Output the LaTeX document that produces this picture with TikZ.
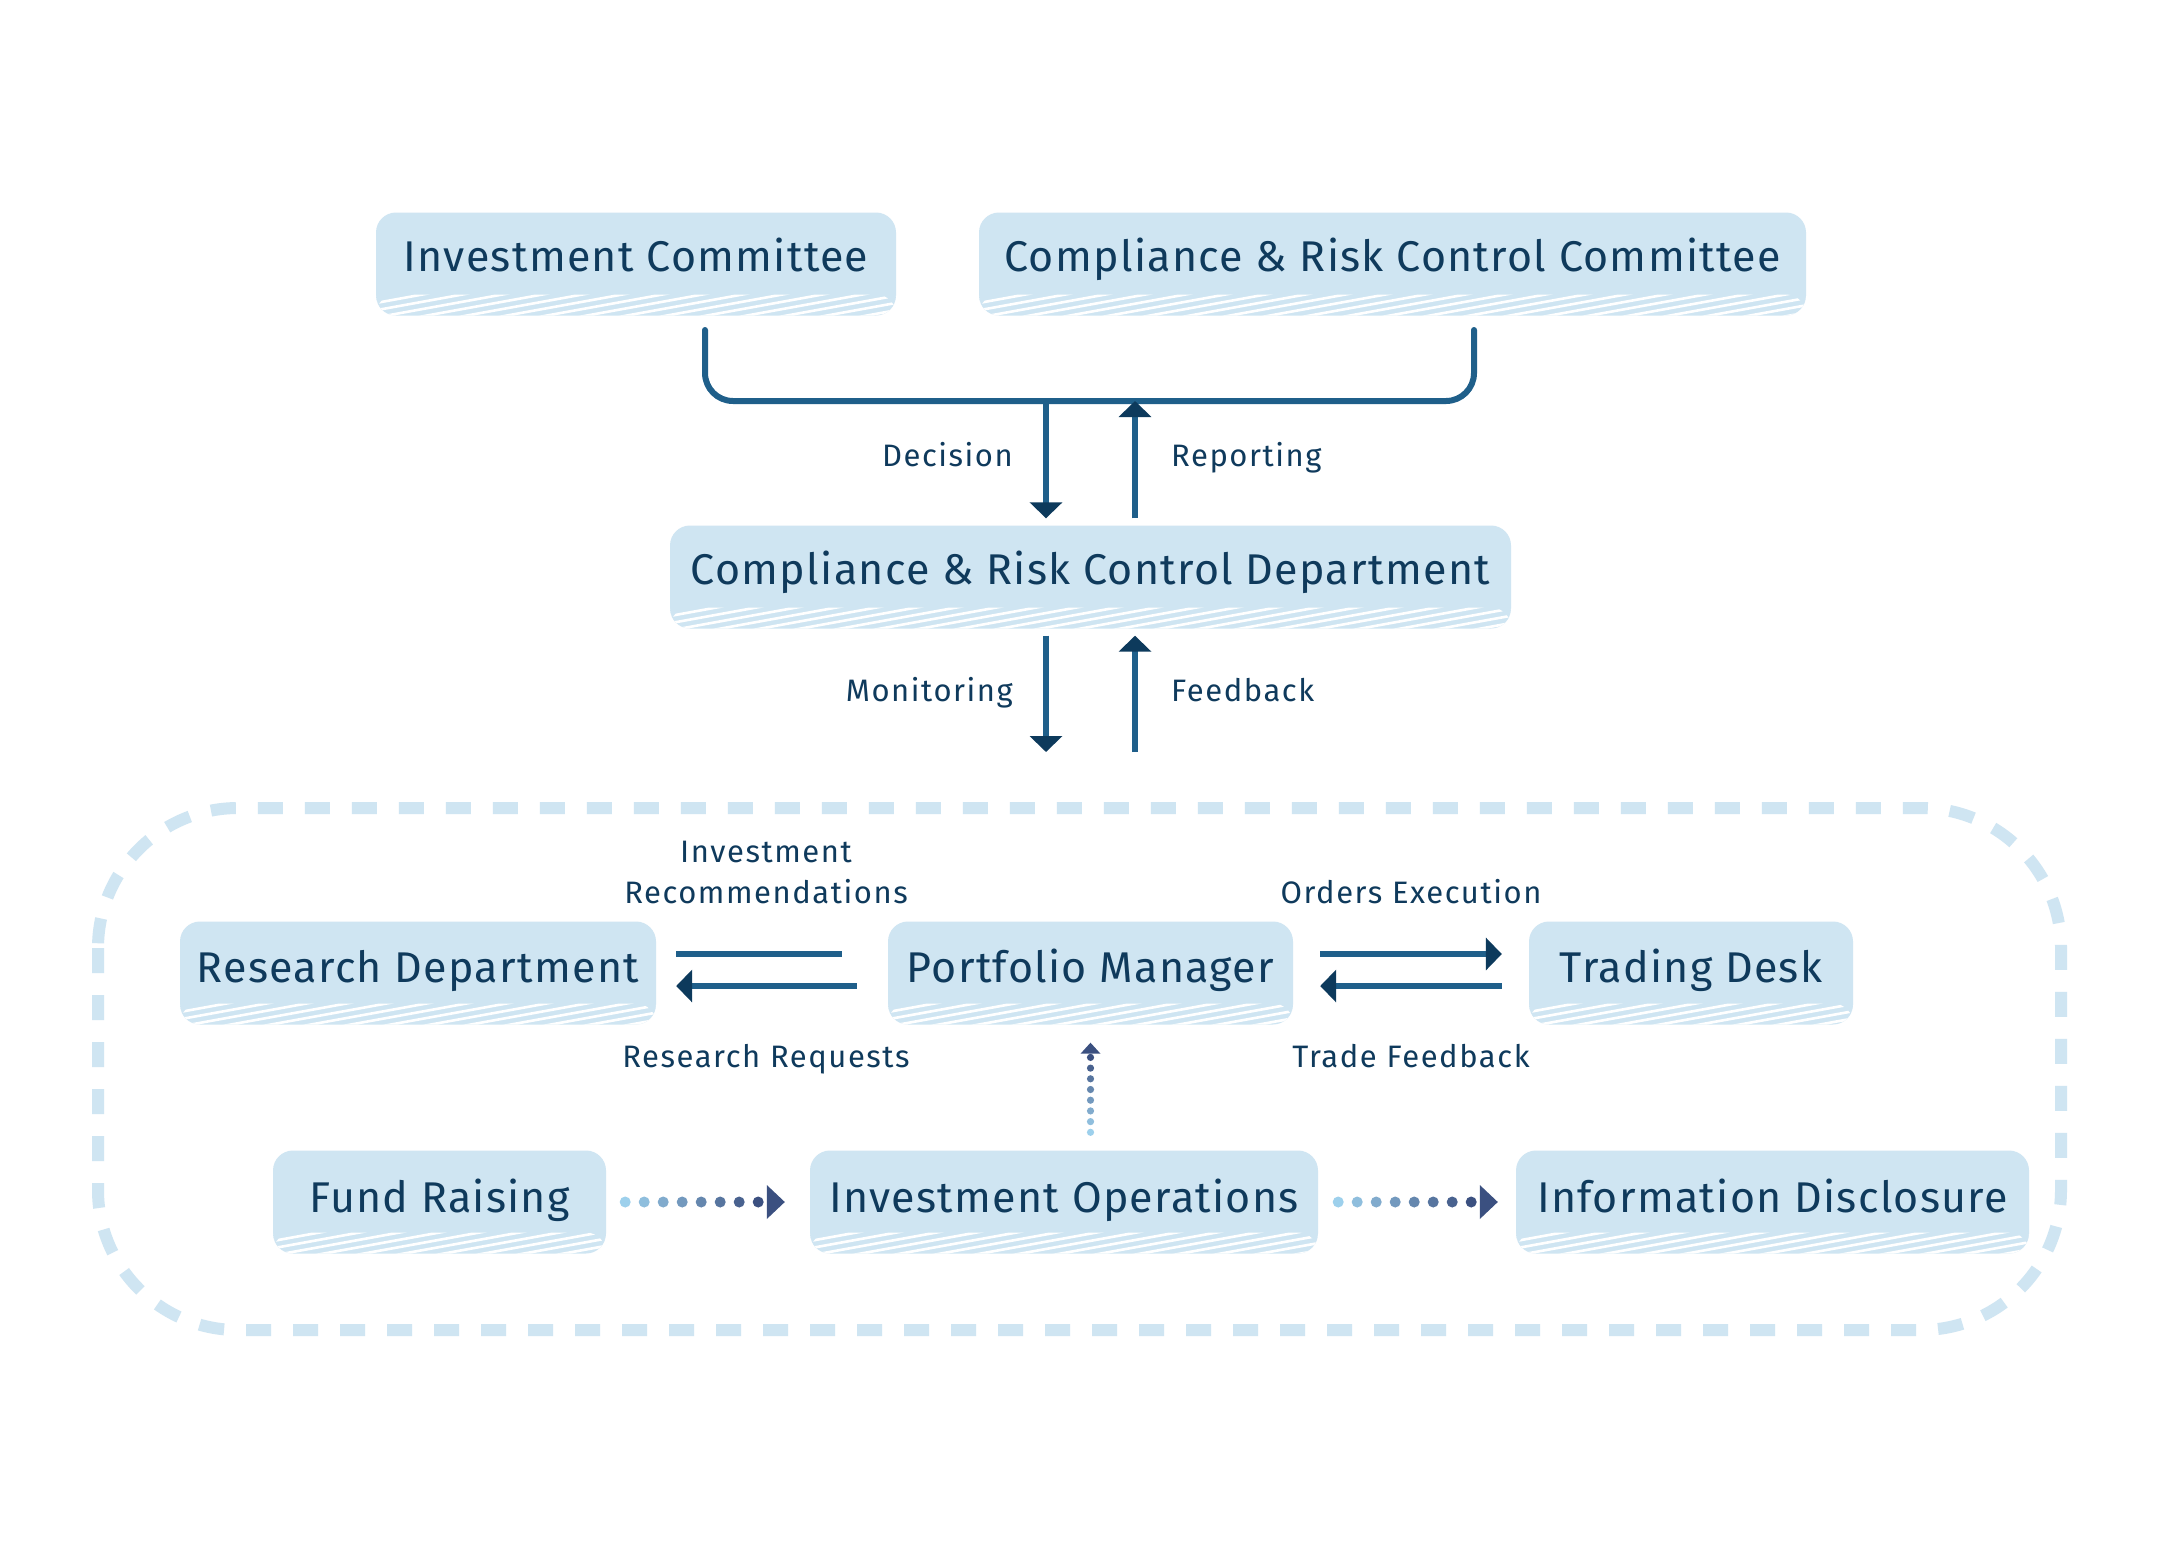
\documentclass[tikz,border=0pt]{standalone}
\usepackage{fontspec}
\setmainfont{Fira Sans}[LetterSpace=3]
\newfontfamily\lblfont{Fira Sans}[LetterSpace=5]
\usetikzlibrary{arrows.meta,calc}
\definecolor{boxfill}{HTML}{CFE5F2}
\definecolor{txt}{HTML}{0F3A5C}
\definecolor{linec}{HTML}{1F5F8A}
\definecolor{headc}{HTML}{0D3A5C}
\definecolor{dotlight}{HTML}{9DD0EC}
\definecolor{dotdark}{HTML}{3B5080}
\newcommand\dotarr[7]{%
  % #1 start (first dot), #2 tip, #3 dot radius, #4 spacing, #5 head length, #6 head half width, #7 name prefix
  \path (#1) coordinate (#7-s) (#2) coordinate (#7-e);
  \foreach \i in {0,...,7}{%
    \pgfmathsetmacro\pc{\i*100/7}%
    \pgfmathsetmacro\dd{\i*#4}%
    \fill[dotdark!\pc!dotlight] ($(#7-s)!\dd pt!(#7-e)$) circle[radius=#3pt];
  }
  \path ($(#7-e)!#5pt!(#7-s)$) coordinate (#7-b);
  \fill[dotdark] (#7-e) -- ($(#7-b)!#6pt!90:(#7-e)$) -- ($(#7-b)!#6pt!-90:(#7-e)$) -- cycle;
}
\tikzset{
  blk/.style={fill=boxfill, rounded corners=20pt, inner sep=0pt, minimum height=103pt,
    path picture={
      \path (path picture bounding box.south west) coordinate (pp-sw)
            (path picture bounding box.south east) coordinate (pp-se);
      \begin{scope}
        \clip (pp-sw) rectangle ([yshift=21pt]pp-se);
        \foreach \k in {-6,...,22}{
          \draw[white, line width=2.6pt] ([xshift=\k*40pt, yshift=-2pt]pp-sw) -- ++(220pt,40pt);
        }
      \end{scope}
    }},
  btxt/.style={text=txt, inner sep=0pt, anchor=base, font=\fontsize{43}{50}\selectfont},
  lbl/.style={text=txt, inner sep=0pt, font=\lblfont\fontsize{31}{41}\selectfont, align=center},
  conn/.style={draw=linec, line width=6pt},
  arr/.style={-{Triangle[length=16pt,width=32pt,color=headc]}},
}
\begin{document}
\begin{tikzpicture}[x=1pt,y=-1pt]
\useasboundingbox[fill=white] (0,0) rectangle (2175,1548);

% dashed frame
\draw[boxfill, line width=12pt, dash pattern=on 25pt off 22pt, rounded corners=140pt]
  (98,808) rectangle (2061,1330);

% boxes
\node[blk, minimum width=520pt] (ic) at (636,264) {};
\node[btxt] (ic-t) at ([yshift=-7.5pt]ic.center) {Investment Committee};
\node[blk, minimum width=827pt] (crcc) at (1392.5,264) {};
\node[btxt] (crcc-t) at ([yshift=-7.5pt]crcc.center) {Compliance \& Risk Control Committee};
\node[blk, minimum width=841pt] (crcd) at (1090.5,577) {};
\node[btxt] (crcd-t) at ([yshift=-7pt]crcd.center) {Compliance \& Risk Control Department};
\node[blk, minimum width=476pt] (rd) at (418,973) {};
\node[btxt] (rd-t) at ([yshift=-9.5pt]rd.center) {Research Department};
\node[blk, minimum width=405pt] (pm) at (1090.5,973) {};
\node[btxt] (pm-t) at ([yshift=-9.5pt]pm.center) {Portfolio Manager};
\node[blk, minimum width=324pt] (td) at (1691,973) {};
\node[btxt] (td-t) at ([yshift=-9.5pt]td.center) {Trading Desk};
\node[blk, minimum width=333pt] (fr) at (439.5,1202) {};
\node[btxt] (fr-t) at ([yshift=-10.5pt]fr.center) {Fund Raising};
\node[blk, minimum width=508pt] (io) at (1064,1202) {};
\node[btxt] (io-t) at ([yshift=-10.5pt]io.center) {Investment Operations};
\node[blk, minimum width=513pt] (id) at (1772.5,1202) {};
\node[btxt] (id-t) at ([yshift=-10.5pt]id.center) {Information Disclosure};

% bracket joining the committees
\coordinate (brL) at (705,330);
\coordinate (brR) at (1474,330);
\coordinate (brM1) at (1046,401);
\coordinate (brM2) at (1135,401);
\draw[conn, line cap=round, rounded corners=28pt] (brL) -- (705,401) -- (1474,401) -- (brR);

% Decision / Reporting
\draw[conn, arr, shorten >=7pt] (brM1) -- (brM1 |- crcd.north);
\draw[conn, arr, shorten <=7pt] (brM2 |- crcd.north) -- (brM2);
\node[lbl, anchor=base east] (l-dec) at (1013,466) {Decision};
\node[lbl, anchor=base west] (l-rep) at (1171,466) {Reporting};

% Monitoring / Feedback
\coordinate (monE) at (1046,752);
\coordinate (fbS) at (1135,752);
\draw[conn, arr, shorten <=7pt] (monE |- crcd.south) -- (monE);
\draw[conn, arr, shorten >=7pt] (fbS) -- (fbS |- crcd.south);
\node[lbl, anchor=base east] (l-mon) at (1013,701) {Monitoring};
\node[lbl, anchor=base west] (l-fb) at (1171,701) {Feedback};

% Research <-> Portfolio Manager
\draw[conn] ([xshift=20pt,yshift=19pt]rd.east) -- ([xshift=-46pt,yshift=19pt]pm.west);
\draw[conn, arr] ([xshift=-31pt,yshift=-13pt]pm.west) -- ([xshift=20pt,yshift=-13pt]rd.east);
\node[lbl, anchor=base] (l-ir1) at (766,862) {Investment};
\node[lbl, anchor=base] (l-ir2) at (766,903) {Recommendations};
\node[lbl, anchor=base] (l-rr) at (766,1067) {Research Requests};

% Portfolio Manager <-> Trading Desk
\draw[conn, arr] ([xshift=27pt,yshift=19pt]pm.east) -- ([xshift=-27pt,yshift=19pt]td.west);
\draw[conn, arr] ([xshift=-27pt,yshift=-13pt]td.west) -- ([xshift=27pt,yshift=-13pt]pm.east);
\node[lbl, anchor=base] (l-oe) at (1411,903) {Orders Execution};
\node[lbl, anchor=base] (l-tf) at (1411,1067) {Trade Feedback};

% dotted arrows
\dotarr{[xshift=19pt]fr.east}{[xshift=-25pt]io.west}{5.5}{19}{18}{17}{da1}
\dotarr{[xshift=20pt]io.east}{[xshift=-18pt]id.west}{5.5}{19}{18}{17}{da2}
\dotarr{[yshift=18pt]io.north -| pm.south}{[yshift=-18pt]pm.south}{3.6}{10.7}{11}{10}{da3}
\end{tikzpicture}
\end{document}
